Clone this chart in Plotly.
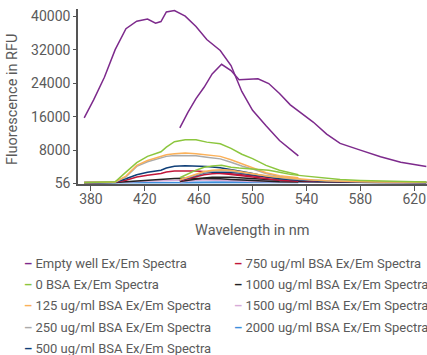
import plotly.graph_objects as go

# Excitation scan wavelengths (nm) and emission scan wavelengths (nm)
ex_wl = [375, 382, 390, 398, 406, 414, 422, 428, 432, 436, 442, 450, 458, 466, 476, 484, 492, 500, 510, 520, 534]
em_wl = [446, 452, 458, 464, 470, 477, 484, 490, 497, 504, 512, 520, 528, 536, 545, 555, 565, 580, 595, 610, 629]

series_names = [
    "Empty well Ex/Em Spectra",
    "0 BSA Ex/Em Spectra",
    "125 ug/ml BSA Ex/Em Spectra",
    "250 ug/ml BSA Ex/Em Spectra",
    "500 ug/ml BSA Ex/Em Spectra",
    "750 ug/ml BSA Ex/Em Spectra",
    "1000 ug/ml BSA Ex/Em Spectra",
    "1500 ug/ml BSA Ex/Em Spectra",
    "2000 ug/ml BSA Ex/Em Spectra",
]
series_colors = ["#7d2a8c", "#8cc63e", "#fbb159", "#ababab", "#0f3f78",
                 "#c1173a", "#222222", "#d7acd8", "#3c8fdd"]

ex_empty = [15700, 20000, 25400, 32000, 37000, 38800, 39300, 38300, 38700, 41000, 41350, 40000, 37500, 34400, 31800, 28200, 22000, 17500, 13800, 10300, 6600]
ex_0 = [250, 260, 280, 450, 2750, 5000, 6500, 7100, 7600, 8700, 10000, 10450, 10450, 9900, 9500, 8400, 7000, 5950, 4350, 3200, 2100]
ex_125 = [260, 270, 290, 400, 1800, 4350, 5500, 6100, 6500, 6900, 7100, 7280, 7150, 6900, 6500, 5700, 4800, 3900, 2600, 1900, 1400]
ex_250 = [250, 260, 280, 380, 1600, 4100, 5200, 5800, 6150, 6500, 6700, 6750, 6650, 6300, 5900, 5100, 4200, 3500, 2400, 1700, 1200]
ex_500 = [240, 250, 260, 320, 1170, 2100, 2700, 3000, 3200, 3700, 4150, 4250, 4250, 4100, 3800, 3400, 2900, 2400, 1700, 1200, 850]
ex_750 = [230, 240, 250, 300, 800, 1550, 2000, 2250, 2400, 2750, 3000, 3000, 3000, 2800, 2500, 2200, 1850, 1550, 1100, 800, 550]
ex_1000 = [220, 230, 240, 280, 450, 650, 800, 900, 1000, 1100, 1200, 1300, 1300, 1250, 1150, 1000, 850, 700, 550, 450, 350]
ex_1500 = [210, 220, 230, 270, 380, 520, 620, 700, 750, 800, 850, 900, 900, 850, 800, 700, 600, 500, 420, 350, 300]
ex_2000 = [200, 210, 220, 250, 270, 300, 320, 330, 340, 350, 360, 370, 370, 360, 340, 320, 300, 280, 260, 250, 240]

em_empty = [13300, 17000, 20300, 23000, 26200, 28500, 27000, 24800, 24900, 25050, 23900, 21500, 18800, 16800, 14700, 11800, 9600, 8000, 6400, 5100, 4100]
em_0 = [1400, 2300, 3200, 3900, 4200, 4350, 3900, 3700, 3500, 3350, 3200, 2700, 2200, 1900, 1550, 1200, 950, 750, 580, 450, 360]
em_125 = [900, 1600, 2300, 2900, 3200, 3300, 3200, 2900, 2500, 2100, 1750, 1500, 1250, 1050, 850, 700, 580, 480, 400, 350, 300]
em_250 = [850, 1450, 2100, 2650, 2950, 3050, 2950, 2700, 2350, 2000, 1650, 1400, 1150, 950, 780, 640, 540, 450, 380, 330, 290]
em_500 = [800, 1400, 2000, 2500, 2750, 2800, 2700, 2500, 2200, 1900, 1500, 1200, 1000, 800, 650, 520, 440, 380, 330, 300, 280]
em_750 = [700, 1200, 1700, 2100, 2350, 2450, 2350, 2150, 1900, 1650, 1350, 1100, 900, 720, 580, 470, 400, 350, 310, 280, 260]
em_1000 = [500, 800, 1100, 1350, 1500, 1550, 1500, 1400, 1250, 1100, 900, 750, 620, 520, 440, 380, 340, 300, 280, 260, 250]
em_1500 = [400, 600, 800, 950, 1000, 1050, 1000, 950, 850, 750, 650, 550, 470, 410, 360, 320, 300, 280, 260, 250, 240]
em_2000 = [250, 300, 350, 380, 400, 410, 400, 390, 370, 350, 330, 310, 290, 280, 270, 260, 250, 245, 240, 235, 230]

ex_data = [ex_empty, ex_0, ex_125, ex_250, ex_500, ex_750, ex_1000, ex_1500, ex_2000]
em_data = [em_empty, em_0, em_125, em_250, em_500, em_750, em_1000, em_1500, em_2000]

x_ticks = [380, 420, 460, 500, 540, 580, 620]
y_ticks = [56, 8000, 16000, 24000, 32000, 40000]

W, H = 427, 355
ML, MT, MB, MR = 78, 9, 171, 0
PW, PH = W - ML - MR, H - MT - MB
FONT = "Roboto"
TXT = "#5a5a5a"


def px_x(p):
    return (p - ML) / PW


def px_y(p):
    return 1 - (p - MT) / PH


fig = go.Figure()

# draw smaller series first so large ones sit on top
for i in reversed(range(len(series_names))):
    c = series_colors[i]
    fig.add_trace(go.Scatter(x=ex_wl, y=ex_data[i], mode="lines", line=dict(color=c, width=1.5),
                             showlegend=False, hoverinfo="skip"))
    fig.add_trace(go.Scatter(x=em_wl, y=em_data[i], mode="lines", line=dict(color=c, width=1.5),
                             showlegend=False, hoverinfo="skip"))

# legend entries (two columns)
for i, name in enumerate(series_names):
    c = series_colors[i]
    fig.add_trace(go.Scatter(
        x=[None], y=[None], mode="markers",
        marker=dict(size=1, opacity=0, color="rgba(0,0,0,0)"),
        name=f"<span style='color:{c}'><b>–</b></span> {name}",
        legendgroup="g" + str(i), showlegend=True,
        legend="legend" if i < 5 else "legend2",
    ))

legend_common = dict(
    xref="paper", yref="paper", yanchor="top", xanchor="left",
    bgcolor="rgba(0,0,0,0)", borderwidth=0,
    font=dict(family=FONT, size=13, color=TXT),
    traceorder="grouped", tracegroupgap=1.5, itemclick=False, itemdoubleclick=False,
)

fig.update_layout(
    width=W, height=H,
    margin=dict(l=ML, r=MR, t=MT, b=MB, autoexpand=False),
    paper_bgcolor="white", plot_bgcolor="white",
    font=dict(family=FONT, color=TXT),
    xaxis=dict(range=[370.4, 629.5], tickvals=x_ticks, ticks="outside", ticklen=5,
               tickcolor="#555555", showline=True, linecolor="#555555", linewidth=1.5,
               showgrid=False, zeroline=False, tickfont=dict(size=14, color=TXT),
               automargin=False, ticklabelstandoff=-4),
    yaxis=dict(range=[-100, 41700], tickvals=y_ticks, ticktext=[str(v) for v in y_ticks],
               ticks="outside", ticklen=3, tickcolor="#555555", showline=True,
               linecolor="#555555", linewidth=1.5, showgrid=False, zeroline=False,
               tickfont=dict(size=14, color=TXT), automargin=False),
    legend=dict(x=px_x(-16), y=px_y(247.5), **legend_common),
    legend2=dict(x=px_x(194), y=px_y(247.5), **legend_common),
    annotations=[
        dict(text="Fluorescence in RFU", textangle=-90, showarrow=False,
             xref="paper", yref="paper", x=px_x(12), y=px_y(100),
             xanchor="center", yanchor="middle",
             font=dict(family=FONT, size=14.5, color=TXT)),
        dict(text="Wavelength in nm", showarrow=False,
             xref="paper", yref="paper", x=px_x(252), y=px_y(231),
             xanchor="center", yanchor="middle",
             font=dict(family=FONT, size=14.5, color=TXT)),
    ],
)

fig.write_html("out.html", config={"displayModeBar": False},
               post_script="document.body.style.margin='0';")
